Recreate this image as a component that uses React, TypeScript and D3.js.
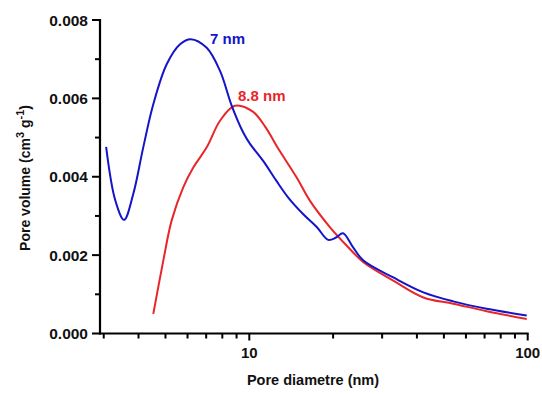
import React from "react";
import * as d3 from "d3";

// Blue series (peak 7 nm): pore diameter (nm), pore volume (cm3 g-1)
const blueD = [3.06, 3.3, 3.55, 3.83, 4.16, 4.52, 5.05, 5.64, 6.16, 7.03, 7.85, 8.65, 9.51, 10.06, 11.2, 12.5, 13.8, 15.6, 17.5, 19.2, 20.5, 21.7, 23.6, 25.7, 32.9, 42.2, 54.0, 71.2, 99.2];
const blueV = [0.00476, 0.0034, 0.0029, 0.00356, 0.00475, 0.00585, 0.00687, 0.00738, 0.00751, 0.00729, 0.0067, 0.00581, 0.00513, 0.00484, 0.00441, 0.0039, 0.00347, 0.00305, 0.00271, 0.00239, 0.00245, 0.00256, 0.0022, 0.00186, 0.00143, 0.00105, 0.00082, 0.00063, 0.00046];

// Red series (peak 8.8 nm)
const redD = [4.52, 4.91, 5.26, 5.79, 6.3, 7.03, 7.85, 8.88, 10.3, 11.4, 12.7, 14.8, 16.5, 19.5, 22.4, 25.7, 32.9, 42.2, 54.0, 71.2, 99.2];
const redV = [0.0005, 0.00186, 0.00288, 0.00373, 0.00424, 0.00475, 0.00543, 0.00581, 0.00566, 0.00528, 0.00472, 0.00398, 0.00339, 0.00271, 0.00224, 0.00182, 0.00135, 0.00092, 0.00076, 0.00057, 0.00037];

const yMajorTicks = [0, 0.002, 0.004, 0.006, 0.008];
const yMinorTicks = [0.001, 0.003, 0.005, 0.007];
const xMajorTicks = [10, 100];
const xMinorTicks = [3, 4, 5, 6, 7, 8, 9, 20, 30, 40, 50, 60, 70, 80, 90];

const peakLabels = [
  { text: "7 nm", color: "#1414c8" },
  { text: "8.8 nm", color: "#e8262a" },
];

const W = 542;
const H = 394;
const FONT = "Arial, 'Liberation Sans', Helvetica, sans-serif";

export default function App() {
  const x = d3.scaleLog().domain([2.909, 100]).range([100, 527.7]);
  const y = d3.scaleLinear().domain([0, 0.008]).range([333.5, 20]);

  const line = d3
    .line<[number, number]>()
    .x((p) => x(p[0]))
    .y((p) => y(p[1]))
    .curve(d3.curveCatmullRom.alpha(0.5));

  const bluePts = blueD.map((d, i) => [d, blueV[i]] as [number, number]);
  const redPts = redD.map((d, i) => [d, redV[i]] as [number, number]);

  const x0 = x.range()[0];
  const x1 = x.range()[1];
  const y0 = y.range()[0];
  const y1 = y.range()[1];

  return (
    <svg
      width={W}
      height={H}
      style={{ position: "absolute", left: 0, top: 0, background: "#fff" }}
      fontFamily={FONT}
    >
      <path d={line(redPts) || ""} fill="none" stroke="#e8262a" strokeWidth={2} />
      <path d={line(bluePts) || ""} fill="none" stroke="#1414c8" strokeWidth={2} />

      {/* axes */}
      <line x1={x0} x2={x0} y1={y1 - 1} y2={y0 + 1} stroke="#000" strokeWidth={2.2} />
      <line x1={x0 - 1} x2={x1 + 1} y1={y0} y2={y0} stroke="#000" strokeWidth={2.2} />

      {yMajorTicks.map((t) => (
        <g key={"ym" + t}>
          <line x1={x0 - 8} x2={x0} y1={y(t)} y2={y(t)} stroke="#000" strokeWidth={2} />
          <text
            x={x0 - 12}
            y={y(t)}
            dy="0.36em"
            textAnchor="end"
            fontSize={15.5}
            fontWeight="bold"
            fill="#111"
          >
            {t.toFixed(3)}
          </text>
        </g>
      ))}
      {yMinorTicks.map((t) => (
        <line key={"yn" + t} x1={x0 - 5} x2={x0} y1={y(t)} y2={y(t)} stroke="#000" strokeWidth={2} />
      ))}

      {xMajorTicks.map((t) => (
        <g key={"xm" + t}>
          <line x1={x(t)} x2={x(t)} y1={y0} y2={y0 + 7} stroke="#000" strokeWidth={2} />
          <text
            x={x(t)}
            y={y0 + 24}
            textAnchor="middle"
            fontSize={15}
            fontWeight="bold"
            fill="#111"
          >
            {t}
          </text>
        </g>
      ))}
      {xMinorTicks.map((t) => (
        <line key={"xn" + t} x1={x(t)} x2={x(t)} y1={y0} y2={y0 + 5} stroke="#000" strokeWidth={2} />
      ))}

      {/* axis titles */}
      <text
        x={313}
        y={385}
        textAnchor="middle"
        fontSize={14.5}
        fontWeight="bold"
        fill="#111"
      >
        Pore diametre (nm)
      </text>
      <text
        transform="translate(30,178) rotate(-90)"
        textAnchor="middle"
        fontSize={14}
        fontWeight="bold"
        fill="#111"
      >
        Pore volume (cm
        <tspan dy={-6} fontSize={11}>3</tspan>
        <tspan dy={6}> g</tspan>
        <tspan dy={-6} fontSize={11}>-1</tspan>
        <tspan dy={6}>)</tspan>
      </text>

      {/* peak labels */}
      <text x={210} y={44} fontSize={15} fontWeight="bold" fill={peakLabels[0].color}>
        {peakLabels[0].text}
      </text>
      <text x={238} y={101} fontSize={15} fontWeight="bold" fill={peakLabels[1].color}>
        {peakLabels[1].text}
      </text>
    </svg>
  );
}
